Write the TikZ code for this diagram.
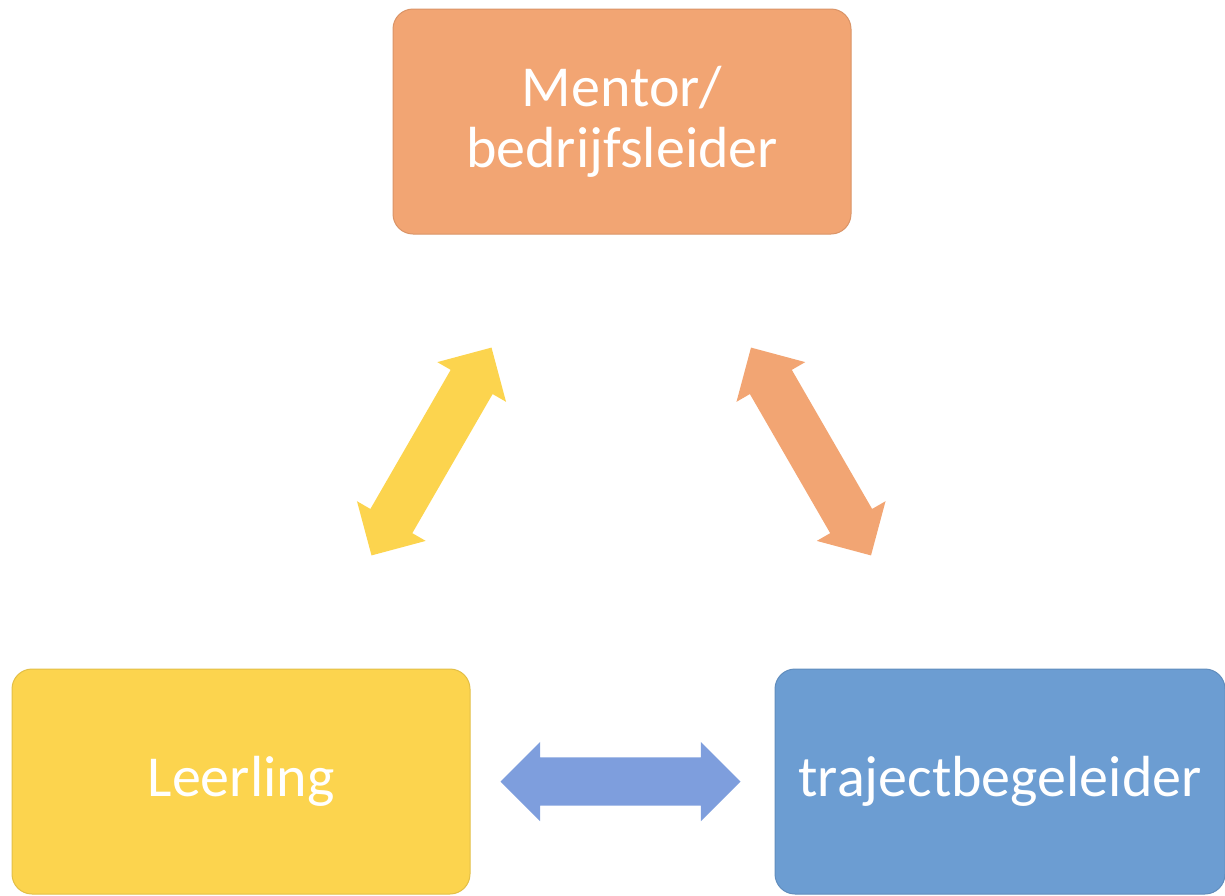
\documentclass[tikz,border=0pt]{standalone}
\usepackage{fontspec}
\setmainfont{Carlito}
\usetikzlibrary{positioning,calc,shapes.arrows}

\definecolor{oranje}{RGB}{242,165,115}
\definecolor{geel}{RGB}{252,212,78}
\definecolor{blauw}{RGB}{108,157,210}
\definecolor{lichtblauw}{RGB}{126,158,221}

\begin{document}
\begin{tikzpicture}[x=1pt,y=-1pt,
    rol/.style={rounded corners=20pt, minimum width=458pt, minimum height=225pt,
      text=white, align=center, font=\fontsize{58}{61}\selectfont,
      inner sep=0pt, outer sep=0pt, line width=1pt},
    lnk/.style={double arrow, double arrow tip angle=90,
      double arrow head extend=15.5pt, inner xsep=0pt, inner ysep=24pt,
      minimum height=240pt, outer sep=0pt}]
  \useasboundingbox (0,0) rectangle (1225,895);
  % de drie partijen
  \node[rol, fill=oranje, draw=oranje!90!black] (ment) at (622,121.5) {Mentor/\\bedrijfsleider};
  \node[rol, fill=geel, draw=geel!90!black] (leer) at (241,781.5) {Leerling};
  \node[rol, fill=blauw, draw=blauw!90!black, minimum width=450pt, right=305pt of leer] (traj) {trajectbegeleider};
  % verbindingen
  \node[lnk, fill=geel, rotate=60] (leer-ment) at ($(leer)!.5!(ment)$) {};
  \node[lnk, fill=oranje, rotate=-60] (ment-traj) at ($(ment)!.5!(traj)$) {};
  \node[lnk, fill=lichtblauw] (leer-traj) at ($(leer)!.5!(traj)$) {};
\end{tikzpicture}
\end{document}
